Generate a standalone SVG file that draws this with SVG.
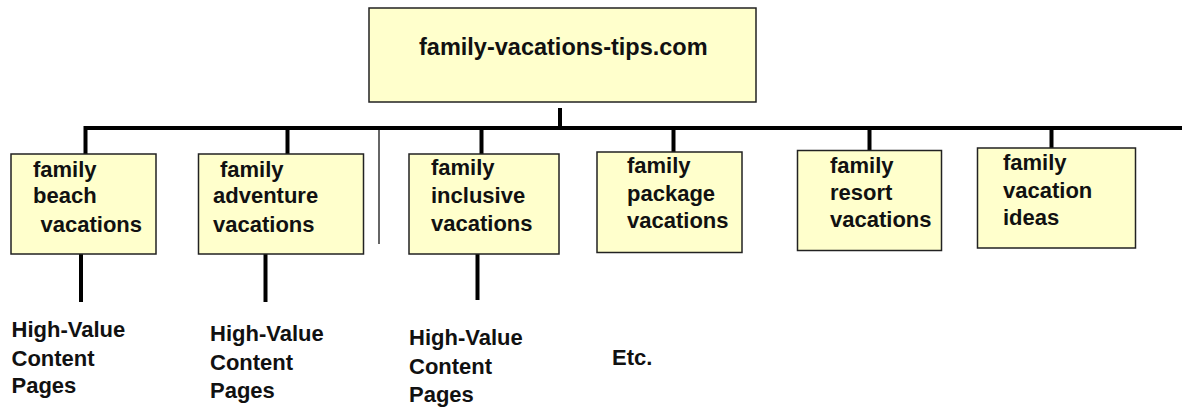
<svg xmlns="http://www.w3.org/2000/svg" width="1182" height="407" viewBox="0 0 1182 407">
<style>
.box{fill:#ffffcc;stroke:#222;stroke-width:1.5}
.t{font-family:"Liberation Sans",Arial,sans-serif;font-weight:bold;font-size:22px;fill:#111}
.c{stroke:#000;stroke-width:4;fill:none}
.thin{stroke:#333;stroke-width:1.5;fill:none}
</style>
<rect width="1182" height="407" fill="#fff"/>
<g id="connectors">
<line class="c" x1="560" y1="108" x2="560" y2="128"/>
<polyline class="c" points="85.5,154 85.5,128 1182,128"/>
<line class="c" x1="287.5" y1="128" x2="287.5" y2="154"/>
<line class="c" x1="481.5" y1="128" x2="481.5" y2="154"/>
<line class="c" x1="673.5" y1="128" x2="673.5" y2="152"/>
<line class="c" x1="869.5" y1="128" x2="869.5" y2="151"/>
<line class="c" x1="1051.5" y1="128" x2="1051.5" y2="148"/>
<line class="thin" x1="379" y1="130" x2="379" y2="244"/>
<line class="c" x1="81" y1="254" x2="81" y2="302"/>
<line class="c" x1="265.5" y1="254" x2="265.5" y2="302"/>
<line class="c" x1="477.5" y1="254" x2="477.5" y2="300"/>
</g>
<g id="root">
<rect class="box" x="369" y="8" width="387" height="94"/>
<text class="t" x="419" y="55" style="font-size:23.5px">family-vacations-tips.com</text>
</g>
<g id="beach">
<rect class="box" x="11" y="154" width="145" height="100"/>
<text class="t"><tspan x="33" y="177">family</tspan><tspan x="33" y="203">beach</tspan><tspan x="40.5" y="231.5">vacations</tspan></text>
</g>
<g id="adventure">
<rect class="box" x="198.5" y="154" width="165" height="100"/>
<text class="t"><tspan x="220" y="177">family</tspan><tspan x="213" y="203">adventure</tspan><tspan x="213" y="231.5">vacations</tspan></text>
</g>
<g id="inclusive">
<rect class="box" x="409" y="154" width="150" height="100"/>
<text class="t"><tspan x="431" y="175">family</tspan><tspan x="431" y="203">inclusive</tspan><tspan x="431" y="230.5">vacations</tspan></text>
</g>
<g id="package">
<rect class="box" x="597" y="152" width="145" height="100.5"/>
<text class="t"><tspan x="627" y="173">family</tspan><tspan x="627" y="200.5">package</tspan><tspan x="627" y="228">vacations</tspan></text>
</g>
<g id="resort">
<rect class="box" x="797.5" y="150.5" width="144" height="100"/>
<text class="t"><tspan x="830" y="172.5">family</tspan><tspan x="830" y="200">resort</tspan><tspan x="830" y="227">vacations</tspan></text>
</g>
<g id="ideas">
<rect class="box" x="977.5" y="148" width="158" height="100"/>
<text class="t"><tspan x="1003" y="170">family</tspan><tspan x="1003" y="197.5">vacation</tspan><tspan x="1003" y="225">ideas</tspan></text>
</g>
<g id="pages1">
<text class="t"><tspan x="11.5" y="336.5">High-Value</tspan><tspan x="11.5" y="366">Content</tspan><tspan x="11.5" y="393">Pages</tspan></text>
</g>
<g id="pages2">
<text class="t"><tspan x="210" y="341">High-Value</tspan><tspan x="210" y="370">Content</tspan><tspan x="210" y="398">Pages</tspan></text>
</g>
<g id="pages3">
<text class="t"><tspan x="409" y="345">High-Value</tspan><tspan x="409" y="374">Content</tspan><tspan x="409" y="402">Pages</tspan></text>
</g>
<g id="etc">
<text class="t" x="612" y="365">Etc.</text>
</g>
</svg>
